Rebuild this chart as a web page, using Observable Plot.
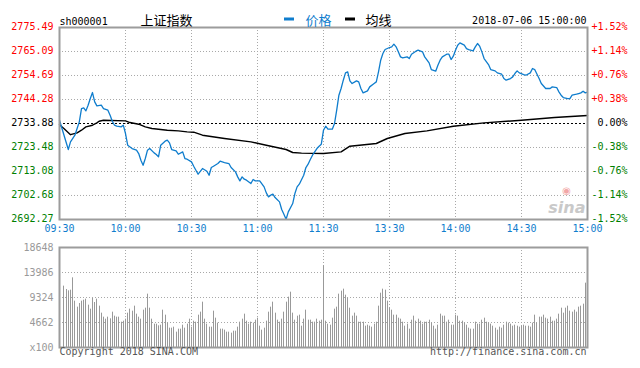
<!DOCTYPE html>
<html><head><meta charset="utf-8">
<script src="https://cdn.jsdelivr.net/npm/d3@7"></script>
<script src="https://cdn.jsdelivr.net/npm/@observablehq/plot@0.6"></script>
<style>
body{margin:0;background:#fff;}
#chart{width:640px;height:368px;position:relative;overflow:hidden;background:#fff;}
#chart svg{display:block;}
</style></head><body><div id="chart"></div>
<script>
// ---- data ----
const priceMinutes = [0,4,5,7,8,9,10,11,12,13,14,15,16,17,19,20,22,23,24,25,26,28,29,30,31,33,35,36,37,38,39,40,41,43,44,45,46,48,49,50,51,53,54,56,57,58,60,61,63,65,67,68,69,70,72,73,75,77,78,80,81,82,83,84,85,87,88,89,91,93,94,95,96,97,98,100,101,102,103,104,106,107,108,109,111,112,113,114,115,117,118,119,120,121,122,124,125,126,127,128,129,130,131,132,133,135,136,137,138,140,141,143,144,145,146,147,148,150,151,152,153,154,155,156,158,159,160,162,163,165,166,168,169,171,172,173,174,176,177,178,179,180,181,182,184,185,186,188,189,190,191,192,193,195,196,198,199,201,202,203,205,206,207,208,209,211,212,214,215,216,218,219,221,223,224,226,227,228,229,231,232,233,235,236,237,238,239,240];
const priceValues = [2735.31,2722.60,2725.92,2728.81,2731.70,2734.59,2740.37,2740.66,2739.35,2741.81,2744.70,2747.30,2743.26,2741.52,2741.81,2740.37,2739.64,2737.48,2734.88,2733.14,2732.71,2732.42,2733.14,2729.53,2724.47,2723.03,2722.31,2720.86,2717.97,2715.80,2718.70,2722.31,2723.03,2721.15,2720.43,2719.42,2724.47,2726.21,2726.64,2725.48,2722.60,2722.02,2720.57,2721.58,2718.70,2718.41,2717.25,2715.37,2711.90,2714.36,2713.20,2711.47,2714.80,2715.37,2716.53,2717.54,2716.96,2716.53,2714.80,2712.91,2710.75,2709.01,2710.75,2709.74,2709.30,2707.86,2709.59,2709.01,2709.01,2706.41,2703.81,2702.08,2702.80,2703.24,2701.79,2699.91,2696.59,2694.57,2692.40,2695.58,2699.19,2703.53,2706.41,2707.57,2711.47,2714.80,2716.24,2718.26,2720.14,2723.03,2724.04,2724.90,2730.98,2732.71,2731.41,2731.41,2733.87,2739.64,2746.15,2749.04,2752.65,2755.83,2756.26,2752.36,2751.20,2752.36,2751.92,2749.04,2747.16,2748.02,2749.76,2751.20,2751.92,2756.26,2761.32,2764.21,2765.94,2766.81,2767.10,2768.25,2767.10,2764.93,2762.76,2762.33,2762.76,2762.04,2763.92,2765.22,2765.65,2764.93,2762.76,2760.16,2757.27,2756.55,2759.15,2761.32,2762.76,2763.92,2763.92,2761.61,2763.05,2765.65,2767.82,2768.83,2767.82,2766.37,2765.94,2765.36,2767.10,2768.54,2767.38,2764.93,2762.04,2759.44,2757.27,2756.69,2755.83,2755.25,2753.37,2752.65,2753.37,2754.09,2755.54,2756.69,2755.83,2755.11,2754.81,2755.83,2757.71,2757.27,2753.37,2751.20,2749.04,2749.04,2749.76,2749.47,2747.59,2746.15,2745.14,2744.70,2744.70,2746.15,2746.58,2746.87,2747.16,2747.88,2747.16,2747.45];
const avgMinutes = [0,2,5,8,10,12,15,17,18,20,30,32,36,39,42,45,49,54,58,61,65,75,87,94,103,106,110,120,128,132,144,149,157,167,179,193,210,225,240];
const avgValues = [2733.36,2731.70,2729.03,2729.82,2730.98,2732.42,2733.14,2734.15,2734.88,2735.31,2735.02,2734.30,2733.58,2732.42,2731.70,2731.41,2730.98,2730.69,2730.25,2730.11,2728.81,2727.38,2725.90,2724.47,2722.61,2721.31,2721.02,2720.88,2721.57,2724.04,2725.21,2727.38,2729.55,2730.67,2732.71,2734.14,2735.31,2736.48,2737.35];
const priceTicks = [2775.49,2765.09,2754.69,2744.28,2733.88,2723.48,2713.08,2702.68,2692.27];
const pctLabels = ["+1.52%","+1.14%","+0.76%","+0.38%","0.00%","-0.38%","-0.76%","-1.14%","-1.52%"];
const prevClose = 2733.88;
const timeTickMinutes = [0,30,60,90,120,150,180,210,240];
const timeTickLabels = ["09:30","10:00","10:30","11:00","11:30","13:30","14:00","14:30","15:00"];
const volAMStart = 2;
const volAM = [11440,10815,10567,10690,12990,8640,7521,8205,8640,8827,9013,7894,7148,9138,8392,9013,7708,6403,5657,5284,5657,5346,6589,5843,5657,5657,4724,4911,5284,6403,7148,6775,7708,6216,5657,5284,6962,7335,9946,7335,5284,4351,4351,4040,4165,6962,6029,4538,3605,3605,3792,2859,3419,3419,4165,3605,4351,5284,3792,4911,4724,6029,6589,8454,5284,4351,3792,3792,6775,5470,4538,3419,3419,3232,2859,2859,2673,3046,3046,3792,4724,5284,6216,4911,4351,4724,4538,5097,5470,3978,3232,3605,4911,6589,7521,8454,6403,5097,4724,5284,6589,8454,9387,10317,6403,5097,5843,6029,3978,5284,6962,5097,5097,4724,4724,5284,4911,5097];
const volPMStart = 120;
const volPM = [15230,4911,4351,4165,5470,7148,7521,9946,10505,10878,9759,9200,7335,5843,6403,5843,4724,4724,4724,3978,4165,3978,3792,4351,4724,7708,10131,10878,10692,8640,7335,6962,6029,6029,5470,5284,4724,3978,4351,3419,5097,5843,4911,5284,4911,4351,4724,4724,5097,4538,3978,3419,4165,6216,5843,5843,4724,5097,4165,4165,6029,5843,4911,4911,4538,4165,3605,3419,3419,4724,4351,4351,5097,5470,4724,4538,4351,3978,3605,3232,3792,3605,4165,4724,4538,4351,3978,4165,3978,3792,3978,4165,3978,3978,3792,4538,6029,4538,5657,5657,6029,5470,5284,5657,4911,4911,5284,6216,7335,6403,7335,7708,6775,6589,6962,6589,7521,7708,8081,11996];
const volTicks = [18648,13986,9324,4662,0];
const volTickLabels = ["18648","13986","9324","4662","x100"];

// ---- styles ----
const MONO = "DejaVu Sans Mono";
const CJK = "Noto Sans CJK SC";
const BLUE = "#0f7dcd";
const GRID = {stroke: "#a8a8a8", strokeOpacity: 1, strokeDasharray: "1,2"};
const FRAME = {stroke: "#9c9c9c", strokeWidth: 2};
const tickColor = v => v > prevClose ? "#ff0000" : v < prevClose ? "#008000" : "#000000";

const price = priceMinutes.map((m, i) => ({m, v: priceValues[i]}));
const avg = avgMinutes.map((m, i) => ({m, v: avgValues[i]}));
const vol = [
  ...volAM.map((v, i) => ({m: volAMStart + i, v})),
  ...volPM.map((v, i) => ({m: volPMStart + i, v}))
];

const main = Plot.plot({
  width: 640, height: 240,
  marginTop: 27, marginBottom: 21, marginLeft: 59, marginRight: 53,
  style: {fontFamily: MONO, fontSize: "10px", background: "white", overflow: "visible"},
  x: {domain: [0, 240], axis: null},
  y: {domain: [priceTicks[priceTicks.length - 1], priceTicks[0]], axis: null},
  color: {type: "identity"},
  marks: [
    Plot.gridX(timeTickMinutes.slice(1, -1), GRID),
    Plot.gridY(priceTicks.slice(1, -1).filter(v => v !== prevClose), GRID),
    Plot.text(["sina"], {text: d => d, frameAnchor: "bottom-right", textAnchor: "end", lineAnchor: "bottom", dx: -2, dy: -7, fontSize: 16, fontWeight: "bold", fontStyle: "italic", fontFamily: "DejaVu Sans", fill: "#c9c9c9"}),
    Plot.text(["◉"], {text: d => d, frameAnchor: "bottom-right", textAnchor: "middle", lineAnchor: "bottom", dx: -21, dy: -26, fontSize: 10, fontFamily: "DejaVu Sans", fill: "#f2a7a7"}),
    Plot.ruleY([prevClose], {stroke: "#000", strokeDasharray: "2,2"}),
    Plot.line(avg, {x: "m", y: "v", stroke: "#000", strokeWidth: 1.4}),
    Plot.line(price, {x: "m", y: "v", stroke: BLUE, strokeWidth: 1.3}),
    Plot.frame(FRAME),
    Plot.text(priceTicks, {y: d => d, text: d => d.toFixed(2), frameAnchor: "left", textAnchor: "end", dx: -6, dy: -0.5, fill: tickColor}),
    Plot.text(priceTicks, {y: d => d, text: (d, i) => pctLabels[i], frameAnchor: "right", textAnchor: "end", dx: 40, dy: -0.5, fill: tickColor}),
    Plot.text(timeTickMinutes, {x: d => d, text: (d, i) => timeTickLabels[i], frameAnchor: "bottom", dy: 12, fill: BLUE}),
    Plot.text(["sh000001"], {text: d => d, frameAnchor: "top-left", textAnchor: "start", lineAnchor: "bottom", dy: -3, fill: "#000"}),
    Plot.text(["上证指数"], {text: d => d, frameAnchor: "top-left", textAnchor: "start", lineAnchor: "bottom", dx: 81, dy: -3, fontSize: 13, fontFamily: CJK, fill: "#000"}),
    Plot.text(["价格"], {text: d => d, frameAnchor: "top-left", textAnchor: "start", lineAnchor: "bottom", dx: 246, dy: -3, fontSize: 13, fontFamily: CJK, fill: BLUE}),
    Plot.text(["均线"], {text: d => d, frameAnchor: "top-left", textAnchor: "start", lineAnchor: "bottom", dx: 306, dy: -3, fontSize: 13, fontFamily: CJK, fill: "#000"}),
    Plot.text(["2018-07-06 15:00:00"], {text: d => d, frameAnchor: "top-right", textAnchor: "end", lineAnchor: "bottom", dx: -1, dy: -4, fill: "#000"})
  ]
});
// legend swatches
const s = d3.select(main);
s.append("rect").attr("x", 284).attr("y", 17.5).attr("width", 10).attr("height", 3).attr("fill", BLUE);
s.append("rect").attr("x", 345).attr("y", 17.5).attr("width", 10).attr("height", 3).attr("fill", "#000");

const volume = Plot.plot({
  width: 640, height: 128,
  marginTop: 7, marginBottom: 21, marginLeft: 59, marginRight: 53,
  style: {fontFamily: MONO, fontSize: "10px", background: "white", overflow: "visible"},
  x: {domain: [0, 240], axis: null, round: true},
  y: {domain: [0, volTicks[0]], axis: null},
  marks: [
    Plot.gridX(timeTickMinutes.slice(1, -1), GRID),
    Plot.gridY(volTicks.slice(1, -1), GRID),
    Plot.ruleX(vol, {x: "m", y1: 0, y2: "v", stroke: "#999"}),
    Plot.frame(FRAME),
    Plot.text(volTicks, {y: d => d, text: (d, i) => volTickLabels[i], frameAnchor: "left", textAnchor: "end", dx: -6, fill: "#999"}),
    Plot.text(["Copyright 2018 SINA.COM"], {text: d => d, frameAnchor: "bottom-left", textAnchor: "start", lineAnchor: "bottom", dy: 7, fill: "#555"}),
    Plot.text(["http://finance.sina.com.cn"], {text: d => d, frameAnchor: "bottom-right", textAnchor: "end", lineAnchor: "bottom", dx: -1, dy: 7, fill: "#555"})
  ]
});

const chart = document.getElementById("chart");
chart.appendChild(main);
chart.appendChild(volume);
</script>
</body></html>
